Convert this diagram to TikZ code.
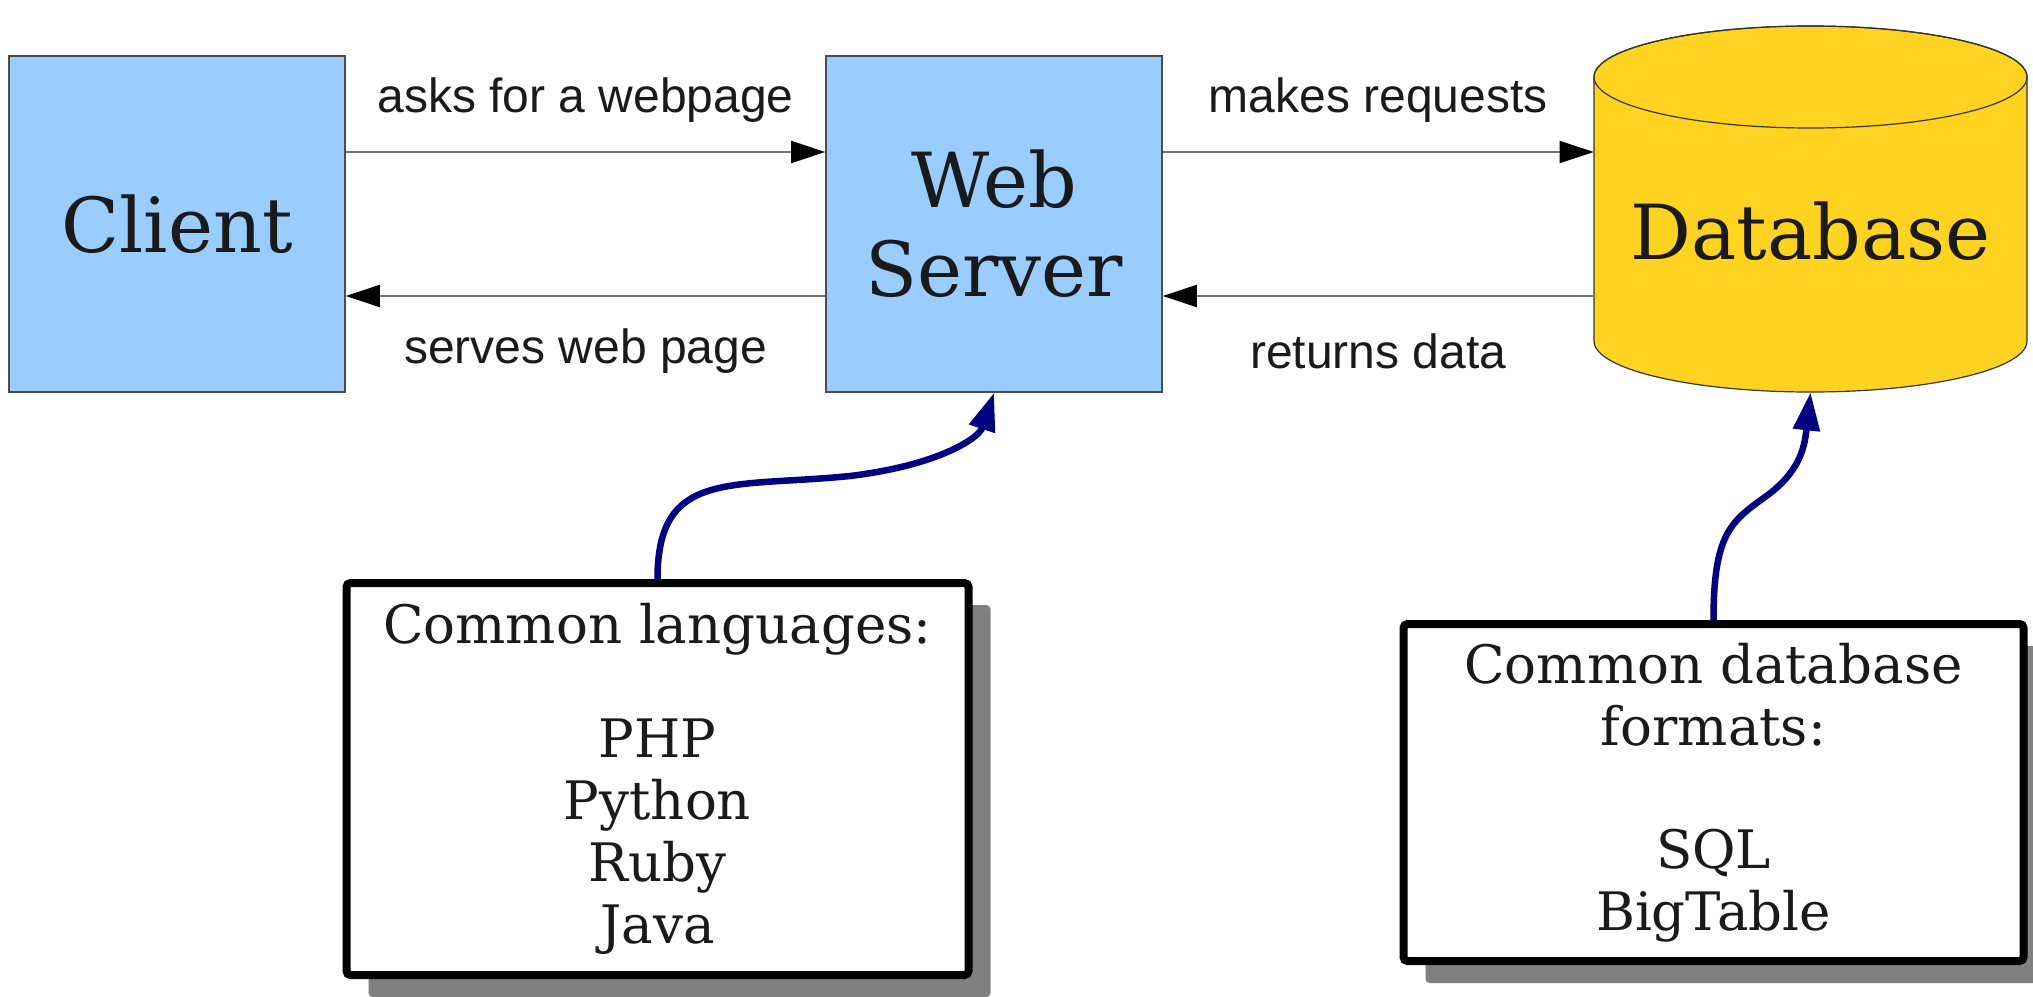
\documentclass[tikz,border=0pt]{standalone}
\usepackage{fontspec}
\setmainfont{DejaVu Serif}
\newfontfamily\labelfont{Liberation Sans}
\usetikzlibrary{arrows.meta,shadows}
\definecolor{boxblue}{RGB}{153,204,255}
\definecolor{dbyellow}{RGB}{255,211,32}
\definecolor{curveblue}{RGB}{0,0,128}
\definecolor{textgray}{RGB}{26,26,26}

\begin{document}
\begin{tikzpicture}[x=0.5pt, y=-0.5pt,
    tier/.style={draw=black!70, line width=0.8pt, fill=boxblue, minimum width=168pt, minimum height=168pt,
        inner sep=0pt, align=center, font=\fontsize{38}{44.5}\selectfont, text=textgray},
    note/.style={draw=black, line width=4pt, rounded corners=2pt, fill=white, align=center, inner sep=0pt,
        font=\fontsize{26.5}{31}\selectfont, text=textgray,
        drop shadow={shadow xshift=11pt, shadow yshift=-11pt, fill=black!50, opacity=1}},
    flow/.style={draw=black!55, line width=1pt, -{Triangle[length=17pt, width=11pt, black]}},
    lbl/.style={font=\labelfont\fontsize{24}{28}\selectfont, text=textgray},
    hook/.style={draw=curveblue, line width=3.25pt, -{Triangle[length=19pt, width=13pt]}}]
    \useasboundingbox (0,0) rectangle (2033,996);

    \node[tier] (client) at (177,224) {Client};
    \node[tier] (server) at (994,224) {Web\\Server};

    \node[minimum width=216.5pt, minimum height=183pt, inner sep=0pt] (db) at (1810.5,209) {};
    \filldraw[fill=dbyellow, draw=black!80, line width=0.6pt] (1594,77) -- (1594,341)
        arc[start angle=180, end angle=360, x radius=108.25pt, y radius=25.5pt] -- (2027,77)
        arc[start angle=0, end angle=180, x radius=108.25pt, y radius=25.5pt] -- cycle;
    \draw[black!80, line width=0.6pt] (1810.5,77) ellipse [x radius=108.25pt, y radius=25.5pt];
    \node[font=\fontsize{38}{44.5}\selectfont, text=textgray] (dbtext) at (1810.5,231) {Database};

    \node[note, minimum width=311pt, minimum height=196pt] (langs) at (657.5,779)
        {Common languages:\\[26pt]PHP\\Python\\Ruby\\Java};
    \node[note, minimum width=310pt, minimum height=168.5pt] (fmts) at (1713.5,792.5)
        {Common database\\formats:\\[30.5pt]SQL\\BigTable};

    \draw[flow] ([yshift=36pt]client.east) -- node[lbl, yshift=26pt]{asks for a webpage} ([yshift=36pt]server.west);
    \draw[flow] ([yshift=-36pt]server.west) -- node[lbl, yshift=-27.5pt]{serves web page} ([yshift=-36pt]client.east);
    \draw[flow] ([yshift=36pt]server.east) -- node[lbl, yshift=26pt]{makes requests} ([yshift=28.5pt]db.west);
    \draw[flow] ([yshift=-43.5pt]db.west) -- node[lbl, yshift=-27.5pt]{returns data} ([yshift=-36pt]server.east);

    \draw[hook] (langs.north) .. controls +(0,-110) and +(-120,12) .. (850,476)
        .. controls +(90,-11) and +(-15,45) .. (server.south);
    \draw[hook] (fmts.north) .. controls +(0,-85) and +(-35,25) .. (1765,497)
        .. controls +(35,-25) and +(-6,55) .. (db.south);
\end{tikzpicture}
\end{document}
